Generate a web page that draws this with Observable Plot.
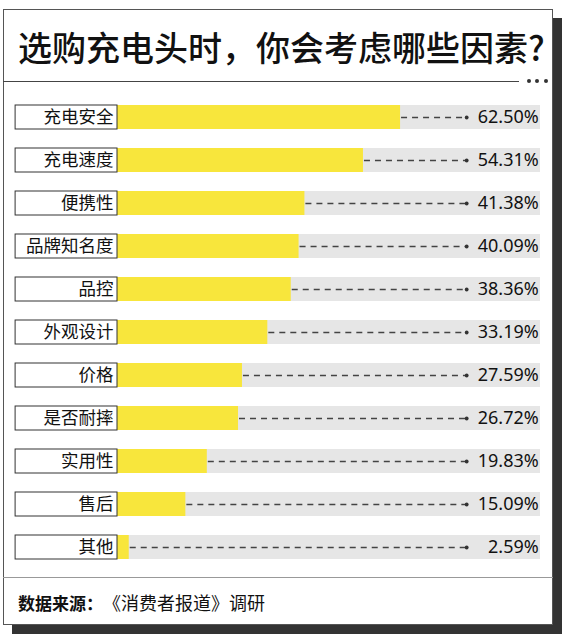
<!DOCTYPE html>
<html><head><meta charset="utf-8">
<script src="https://cdn.jsdelivr.net/npm/d3@7"></script>
<script src="https://cdn.jsdelivr.net/npm/@observablehq/plot@0.6"></script>
<style>
html,body{margin:0;padding:0}
body{width:562px;height:637px;background:#fff;position:relative;overflow:hidden;font-family:"Noto Sans CJK SC","Noto Sans",sans-serif;color:#111}
#frame{position:absolute;left:3px;top:9px;width:550px;height:616px;box-sizing:border-box;border:1px solid #555;box-shadow:9px 9px 0 #333;background:#fff}
#title{position:absolute;left:18px;top:27px;font-size:34px;line-height:40px;font-weight:500;white-space:nowrap;letter-spacing:0px}
#tline{position:absolute;left:3px;top:81px;width:516px;height:0;border-top:1px solid #444}
.dot{position:absolute;top:79px;width:4px;height:4px;border-radius:50%;background:#333}
#fline{position:absolute;left:3px;top:577px;width:550px;height:0;border-top:1px solid #999}
#footer{position:absolute;left:18px;top:590px;line-height:24px;white-space:nowrap}
#footer b{font-weight:700;font-size:17px}
#footer span{font-size:18px;margin-left:9px}
#chart{position:absolute;left:0;top:96px}
</style></head>
<body>
<div id="frame"></div>
<div id="title">选购充电头时，你会考虑哪些因素?</div>
<div id="tline"></div>
<div class="dot" style="left:527px"></div>
<div class="dot" style="left:535px"></div>
<div class="dot" style="left:544px"></div>
<div id="chart"></div>
<div id="fline"></div>
<div id="footer"><b>数据来源：</b><span>《消费者报道》调研</span></div>
<script>
const categories = ["充电安全","充电速度","便携性","品牌知名度","品控","外观设计","价格","是否耐摔","实用性","售后","其他"];
const values = [62.50,54.31,41.38,40.09,38.36,33.19,27.59,26.72,19.83,15.09,2.59];
const valueLabels = ["62.50%","54.31%","41.38%","40.09%","38.36%","33.19%","27.59%","26.72%","19.83%","15.09%","2.59%"];

const data = categories.map((c,i)=>({category:c,value:values[i],label:valueLabels[i]}));
const xMax = 93.4, boxStart = -22.5, dotAt = 77.1, labelAt = 93.0;

const chart = Plot.plot({
  width:562, height:473,
  marginLeft:117, marginRight:22, marginTop:0, marginBottom:0,
  style:{fontFamily:"'Noto Sans CJK SC', sans-serif", background:"transparent", overflow:"visible"},
  x:{domain:[0,xMax], axis:null},
  y:{domain:categories, axis:null, paddingInner:0.44, paddingOuter:0.22},
  marks:[
    Plot.barX(data,{y:"category", x1:0, x2:xMax, fill:"#e6e6e6"}),
    Plot.barX(data,{y:"category", x1:0, x2:"value", fill:"#f8e63c"}),
    Plot.barX(data,{y:"category", x1:boxStart, x2:0, fill:"#fff", stroke:"#333", strokeWidth:1}),
    Plot.text(data,{y:"category", x:0, dx:-4, text:"category", textAnchor:"end", fontSize:17.5, fill:"#111"}),
    Plot.ruleY(data,{y:"category", x1:"value", x2:dotAt, dx:1, stroke:"#444", strokeWidth:1.3, strokeDasharray:"6,5"}),
    Plot.dot(data,{y:"category", x:dotAt, r:1.9, fill:"#333", stroke:null}),
    Plot.text(data,{y:"category", x:labelAt, text:"label", textAnchor:"end", fontSize:18, fontFamily:"'Noto Sans', sans-serif", fill:"#111"})
  ]
});
document.getElementById("chart").appendChild(chart);
</script>
</body></html>
